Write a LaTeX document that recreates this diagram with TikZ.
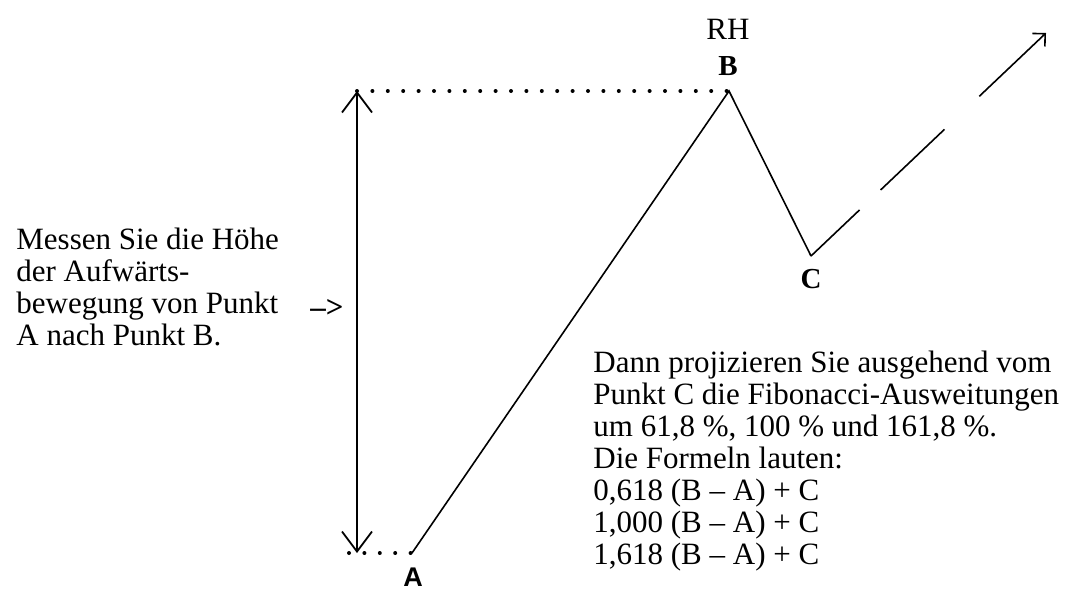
\documentclass[tikz,border=0pt]{standalone}
\usepackage{fontspec}
\setmainfont{Liberation Serif}
\setsansfont{Liberation Sans}
\usetikzlibrary{arrows.meta}

\tikzset{
  dotline/.style={line width=2pt,line cap=round,dash pattern=on 0pt off 7.7pt},
  waveline/.style={line width=0.8pt},
  measure/.style={line width=0.9pt,{Straight Barb[length=10pt,width=15pt,line width=0.9pt]}-{Straight Barb[length=10pt,width=15pt,line width=0.9pt]}},
  target/.style={line width=0.8pt,dash pattern=on 33.5pt off 14.5pt on 44pt off 24pt on 46pt off 0pt,-{Straight Barb[length=4.5pt,width=9pt,line width=0.8pt]}},
  ptlabel/.style={font=\bfseries\fontsize{14.5}{16}\selectfont,inner sep=0pt},
  info/.style={align=left,inner sep=0pt,anchor=north west,font=\fontsize{15.5}{16}\selectfont}
}

\begin{document}
\begin{tikzpicture}[x=0.5pt,y=-0.5pt]
\useasboundingbox (0,0) rectangle (1070,589);

\coordinate (A) at (412,553);
\coordinate (B) at (729,91);
\coordinate (C) at (811,256);
\coordinate (T) at (1046,33);
\coordinate (Mtop) at (357,91);
\coordinate (Mbot) at (357,553);
\coordinate (Abot) at (349,553);

\draw[dotline] (Mtop) -- (B);
\draw[dotline] (Abot) -- (A);

\draw[measure] (Mbot) -- (Mtop);

\draw[waveline] (A) -- (B) -- (C);
\draw[target] (C) -- (T);

\node[ptlabel,font=\sffamily\bfseries\fontsize{13.5}{15}\selectfont] (lblA) at (413,577) {A};
\node[ptlabel] (lblB) at (728,66) {B};
\node[ptlabel] (lblC) at (811,279) {C};
\node[inner sep=0pt,font=\fontsize{15.5}{16}\selectfont] (lblRH) at (728,29) {RH};

\node[info] (lefttext) at (16,228)
  {Messen Sie die Höhe\\der Aufwärts-\\bewegung von Punkt\\A nach Punkt B.};
\node[inner sep=0pt,font=\bfseries\fontsize{15.5}{16}\selectfont] (pointer) at (327,308) {–>};

\node[info] (righttext) at (593,351)
  {Dann projizieren Sie ausgehend vom\\Punkt C die Fibonacci-Ausweitungen\\um 61,8 \%, 100 \% und 161,8 \%.\\Die Formeln lauten:\\0,618 (B – A) + C\\1,000 (B – A) + C\\1,618 (B – A) + C};

\end{tikzpicture}
\end{document}
